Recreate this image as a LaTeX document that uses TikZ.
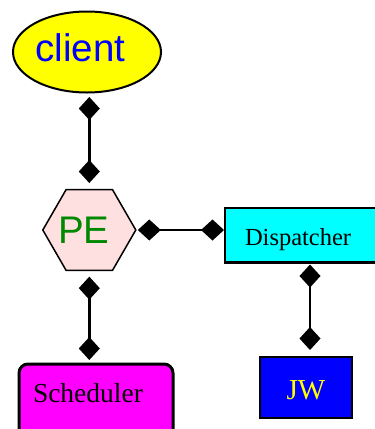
\documentclass[tikz,border=0pt]{standalone}
\usepackage{fontspec}
\setmainfont{Liberation Serif}
\newfontfamily\labelsans{Liberation Sans}
\usetikzlibrary{shapes.geometric,arrows.meta,calc}

\definecolor{pefill}{RGB}{255,224,224}
\definecolor{pegreen}{RGB}{0,136,0}
\definecolor{clientyellow}{RGB}{255,255,0}
\definecolor{clientblue}{RGB}{0,0,255}
\definecolor{dispcyan}{RGB}{0,255,255}
\definecolor{schedmagenta}{RGB}{255,0,255}
\definecolor{jwblue}{RGB}{0,0,255}
\definecolor{jwyellow}{RGB}{255,255,0}

\begin{document}
\begin{tikzpicture}[x=1pt,y=-1pt,
  every node/.style={outer sep=0pt},
  bigsans/.style={font=\labelsans\fontsize{38.5}{38.5}\selectfont},
  link/.style={line width=2.4pt,
    >={Kite[length=23pt,width=21pt,inset=11.5pt]}, <->},
  boxtext/.style={align=left, inner ysep=0pt}]
\useasboundingbox (0,0) rectangle (375,429);
\clip (0,0) rectangle (375,429);

% components
\node[draw, line width=2pt, fill=clientyellow, ellipse, minimum width=148pt,
      minimum height=81pt, inner sep=0pt, text=clientblue, bigsans, text depth=8pt]
      (client) at (87,52) {client\hspace*{13pt}};

% the label is set in a zero-size box so the hexagon keeps its given size
\node[draw, line width=1.5pt, fill=pefill, regular polygon, regular polygon sides=6,
      minimum size=93pt, inner sep=0pt, text=pegreen, bigsans]
      (pe) at (89.3,230) {\makebox[0pt]{\raisebox{-13.8pt}[0pt][0pt]{PE\hspace*{11pt}}}};

\node[draw, line width=2.4pt, fill=dispcyan, anchor=north west, boxtext,
      minimum height=54.5pt, text width=120pt, inner xsep=20pt,
      text height=25pt, font=\fontsize{24.5}{24.5}\selectfont]
      (disp) at (225,208) {Dispatcher};

\node[draw, line width=3pt, fill=schedmagenta, rounded corners=9pt, anchor=north west,
      boxtext, text width=126pt, inner xsep=14pt, text height=38pt, text depth=40pt,
      font=\fontsize{27.5}{27.5}\selectfont]
      (sched) at (19,364) {Scheduler};

\node[draw, line width=2.4pt, fill=jwblue, text=jwyellow, minimum width=92pt,
      minimum height=61pt, inner sep=0pt, text height=23pt, text depth=0pt,
      font=\fontsize{29}{29}\selectfont]
      (jw) at (306,387.5) {JW};

% connectors
\draw[link, shorten <=4.5pt, shorten >=6.7pt] (client.south -| pe.center) -- (pe.north);
\draw[link, shorten <=2pt, shorten >=1pt] (pe.east) -- (pe.east -| disp.west);
\draw[link, shorten <=6.4pt, shorten >=4pt] (pe.south) -- (pe.south |- sched.north);
\draw[link, shorten <=2pt, shorten >=7pt]
  ($(jw.north |- disp.south)+(4,0)$) -- ($(jw.north)+(4,0)$);
\end{tikzpicture}
\end{document}
